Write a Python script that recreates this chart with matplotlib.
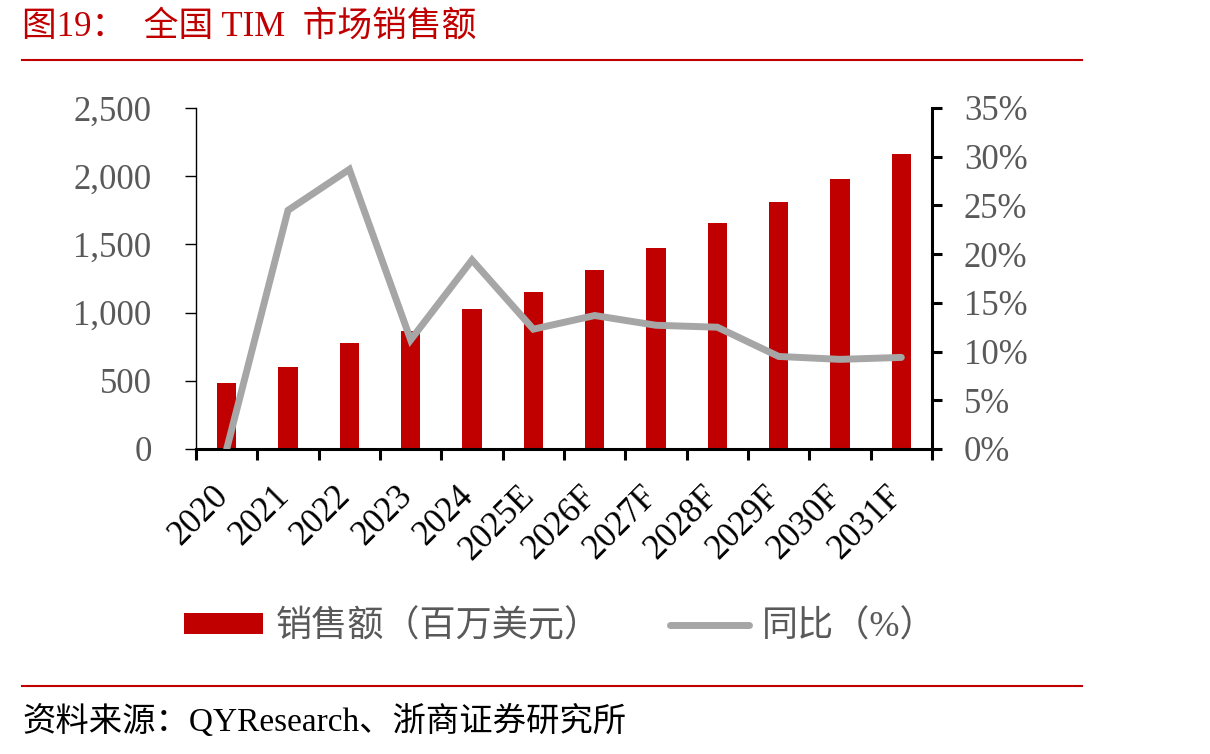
import numpy as np
import matplotlib
matplotlib.use("Agg")
import matplotlib.pyplot as plt
import matplotlib.transforms as mtransforms
from matplotlib.lines import Line2D
from matplotlib.patches import Patch
from matplotlib.ticker import FuncFormatter, FixedLocator

plt.rcParams['font.family'] = ['Liberation Serif', 'Noto Sans CJK SC']

years = ['2020', '2021', '2022', '2023', '2024', '2025E', '2026F',
         '2027F', '2028F', '2029F', '2030F', '2031F']
sales = [486, 604, 777, 862, 1029, 1154, 1312, 1476, 1660, 1813, 1980, 2165]
yoy = [0.0, 24.5, 28.7, 11.2, 19.4, 12.3, 13.7, 12.7, 12.5, 9.5, 9.2, 9.4]

RED = '#C00000'
GREY = '#A6A6A6'
TXT = '#595959'

fig = plt.figure(figsize=(12.1, 7.54), dpi=100)
ax = fig.add_axes([196 / 1210, 1 - 449 / 754, (932 - 196) / 1210, (449 - 108) / 754])
ax2 = ax.twinx()

x = np.arange(len(years))
ax.bar(x, sales, width=0.31, color=RED, zorder=2)
ax2.plot(x, np.array(yoy) / 100, color=GREY, lw=5, solid_capstyle='round',
         solid_joinstyle='miter', zorder=3)

ax.set_xlim(-0.5, len(years) - 0.5)
ax.set_ylim(0, 2500)
ax.set_yticks(np.arange(0, 2501, 500))
ax.yaxis.set_major_formatter(FuncFormatter(lambda v, p: f'{int(v):,}'))
ax2.set_ylim(0, 0.35)
ax2.set_yticks(np.arange(0, 0.351, 0.05))
ax2.yaxis.set_major_formatter(FuncFormatter(lambda v, p: f'{v * 100:.0f}%'))

# ticks at category boundaries, labels at centres
ax.xaxis.set_major_locator(FixedLocator(np.arange(-0.5, len(years), 1.0)))
ax.xaxis.set_major_formatter(FuncFormatter(lambda v, p: ''))
ax.set_xticks(x, minor=True)
ax.set_xticklabels(years, minor=True, rotation=45, ha='right', va='top',
                   fontsize=25, color='black')
ax.tick_params(axis='x', which='major', direction='out', length=8, width=2.2, color='black')
ax.tick_params(axis='x', which='minor', length=0, pad=22)
shift = mtransforms.ScaledTranslation(8 / 100, 0, fig.dpi_scale_trans)
for lab in ax.get_xticklabels(minor=True):
    lab.set_transform(lab.get_transform() + shift)

ax.tick_params(axis='y', direction='out', length=8, width=1, labelsize=25,
               labelcolor=TXT, pad=24)
ax2.tick_params(axis='y', direction='out', length=7, width=2.2, labelsize=25,
                labelcolor=TXT, pad=16)

for a in (ax, ax2):
    a.spines['top'].set_visible(False)
ax.spines['right'].set_visible(False)
ax2.spines['left'].set_visible(False)
ax2.spines['bottom'].set_visible(False)
ax.spines['left'].set_linewidth(1)
ax.spines['bottom'].set_linewidth(2.2)
ax2.spines['right'].set_linewidth(2.2)

# legend
handles = [Patch(facecolor=RED, edgecolor='none'),
           Line2D([0], [0], color=GREY, lw=5, solid_capstyle='round')]
labels = ['销售额（百万美元）', '同比（%）']
leg = fig.legend(handles, labels, loc='center', ncol=2, frameon=False,
                 bbox_to_anchor=(560 / 1210, 1 - 627 / 754), fontsize=26,
                 handlelength=2.2, handleheight=0.5, handletextpad=0.35,
                 columnspacing=1.9, labelcolor=TXT)

# title, rules, source
fig.text(22 / 1210, 1 - 27 / 754, '图19：  全国 TIM  市场销售额', color=RED,
         fontsize=25, va='center', ha='left')
fig.add_artist(Line2D([22 / 1210, 1082 / 1210], [1 - 60 / 754, 1 - 60 / 754],
                      color=RED, lw=1.5))
fig.add_artist(Line2D([22 / 1210, 1082 / 1210], [1 - 686 / 754, 1 - 686 / 754],
                      color=RED, lw=1.5))
fig.text(22 / 1210, 1 - 721 / 754, '资料来源：QYResearch、浙商证券研究所', color='black',
         fontsize=24, va='center', ha='left')

fig.savefig('out.png', dpi=100)
